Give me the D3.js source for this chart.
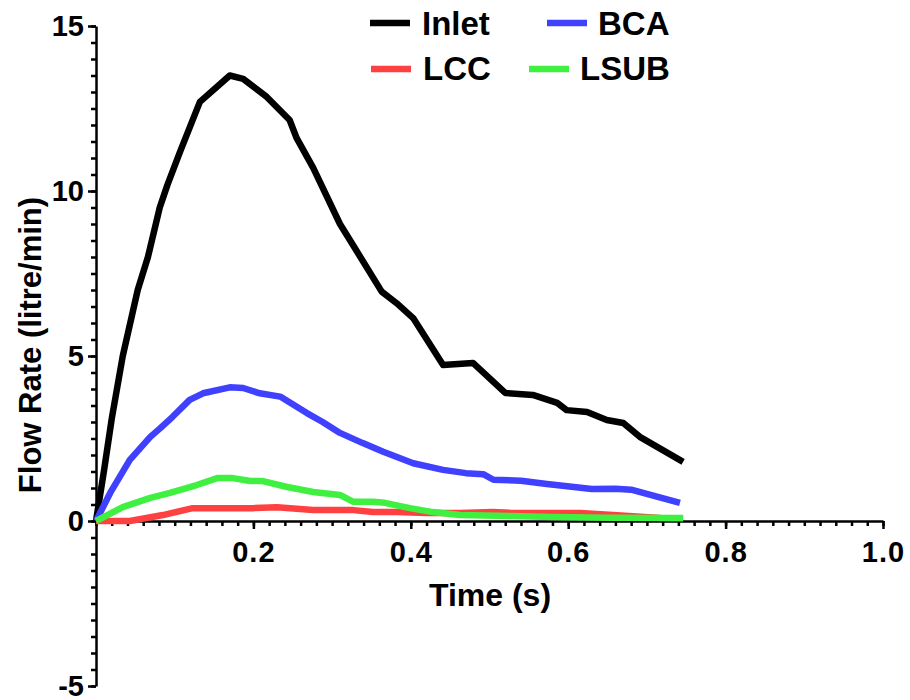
<!DOCTYPE html>
<html lang="en">
<head>
  <meta charset="UTF-8">
  <title>Flow Rate vs Time</title>
  <script src="https://d3js.org/d3.v7.min.js"></script>
  <style>
    * { margin: 0; padding: 0; box-sizing: border-box; }
    body { width: 910px; height: 700px; background: #fff; font-family: "Liberation Sans", Arial, sans-serif; }
    .tick text { font-weight: bold; }
  </style>
</head>
<body>
  <div id="chart"></div>

  <script>
    // Data (time in s, flow in litre/min)
    const inletTime = [0, 0.01, 0.02, 0.034, 0.053, 0.066, 0.081, 0.091, 0.107, 0.132, 0.170, 0.187, 0.217, 0.246, 0.255, 0.276, 0.310, 0.323, 0.363, 0.382, 0.403, 0.441, 0.479, 0.520, 0.555, 0.586, 0.598, 0.624, 0.649, 0.670, 0.691, 0.746];
    const inletFlow = [0, 1.5, 3.1, 5.0, 7.0, 8.0, 9.5, 10.2, 11.2, 12.7, 13.5, 13.4, 12.85, 12.15, 11.6, 10.7, 9.0, 8.5, 6.95, 6.6, 6.15, 4.73, 4.79, 3.88, 3.82, 3.58, 3.36, 3.3, 3.06, 2.97, 2.55, 1.79];

    const bcaTime = [0, 0.018, 0.043, 0.069, 0.081, 0.097, 0.119, 0.136, 0.170, 0.187, 0.208, 0.234, 0.268, 0.288, 0.310, 0.339, 0.365, 0.403, 0.441, 0.470, 0.492, 0.505, 0.540, 0.573, 0.630, 0.660, 0.680, 0.742];
    const bcaFlow = [0, 0.85, 1.85, 2.55, 2.8, 3.15, 3.67, 3.87, 4.05, 4.03, 3.87, 3.77, 3.27, 3.0, 2.67, 2.36, 2.1, 1.75, 1.55, 1.45, 1.42, 1.25, 1.22, 1.12, 0.97, 0.98, 0.95, 0.55];

    const lccTime = [0, 0.043, 0.085, 0.123, 0.170, 0.199, 0.230, 0.276, 0.327, 0.352, 0.382, 0.420, 0.462, 0.504, 0.526, 0.615, 0.657, 0.717, 0.746];
    const lccFlow = [0, 0, 0.18, 0.39, 0.39, 0.39, 0.42, 0.33, 0.33, 0.27, 0.27, 0.24, 0.24, 0.27, 0.25, 0.24, 0.18, 0.09, 0.08];

    const lsubTime = [0, 0.034, 0.069, 0.094, 0.128, 0.154, 0.174, 0.196, 0.212, 0.243, 0.276, 0.310, 0.327, 0.352, 0.367, 0.399, 0.428, 0.462, 0.526, 0.580, 0.650, 0.746];
    const lsubFlow = [0, 0.42, 0.7, 0.85, 1.09, 1.3, 1.3, 1.21, 1.21, 1.03, 0.88, 0.79, 0.58, 0.58, 0.55, 0.39, 0.27, 0.18, 0.15, 0.12, 0.1, 0.09];

    const seriesNames = ['Inlet', 'BCA', 'LCC', 'LSUB'];
    const seriesColors = ['#000000', '#4040ff', '#ff4040', '#40f040'];

    const xTicks = [0.2, 0.4, 0.6, 0.8, 1.0];
    const yTicks = [-5, 0, 5, 10, 15];

    const width = 910, height = 700;

    const svg = d3.select('#chart')
      .append('svg')
      .attr('width', width)
      .attr('height', height);

    const x = d3.scaleLinear().domain([0, 1]).range([96, 883]);
    const y = d3.scaleLinear().domain([-5, 15]).range([686, 26]);

    // minor ticks first, then major ticks with labels
    svg.append('g')
      .attr('transform', `translate(0,${y(0)})`)
      .call(d3.axisBottom(x).tickValues(d3.range(0, 1.0001, 0.02)).tickSize(5).tickFormat(''))
      .call(g => g.select('.domain').remove());

    svg.append('g')
      .attr('transform', `translate(${x(0)},0)`)
      .call(d3.axisLeft(y).tickValues(d3.range(-5, 15.001, 0.5)).tickSize(5).tickFormat(''))
      .call(g => g.select('.domain').remove());

    const xAxis = svg.append('g')
      .attr('transform', `translate(0,${y(0)})`)
      .call(d3.axisBottom(x).tickValues(xTicks).tickSize(8).tickSizeOuter(0).tickPadding(12).tickFormat(d => d.toFixed(1)));

    const yAxis = svg.append('g')
      .attr('transform', `translate(${x(0)},0)`)
      .call(d3.axisLeft(y).tickValues(yTicks).tickSize(8).tickSizeOuter(0).tickPadding(4).tickFormat(d => String(d)));

    [xAxis, yAxis].forEach(g => {
      g.selectAll('path, line').attr('stroke', '#000').attr('stroke-width', 2.5);
      g.selectAll('text').attr('font-size', 29).attr('fill', '#000')
        .attr('font-family', '"Liberation Sans", Arial, sans-serif');
    });
    svg.selectAll('.tick line').attr('stroke', '#000').attr('stroke-width', 2.5);
    xAxis.selectAll('text').attr('dy', '0.71em').attr('letter-spacing', 1);

    // axis titles
    svg.append('text')
      .attr('x', 490)
      .attr('y', 606)
      .attr('text-anchor', 'middle')
      .attr('font-size', 32)
      .attr('font-weight', 'bold')
      .text('Time (s)');

    svg.append('text')
      .attr('transform', `translate(41,345) rotate(-90)`)
      .attr('text-anchor', 'middle')
      .attr('font-size', 31)
      .attr('font-weight', 'bold')
      .text('Flow Rate (litre/min)');

    // lines
    const allSeries = [
      { times: inletTime, flows: inletFlow },
      { times: bcaTime, flows: bcaFlow },
      { times: lccTime, flows: lccFlow },
      { times: lsubTime, flows: lsubFlow }
    ];

    const line = d3.line()
      .x(d => x(d[0]))
      .y(d => y(d[1]));

    allSeries.forEach((s, i) => {
      svg.append('path')
        .datum(d3.zip(s.times, s.flows))
        .attr('fill', 'none')
        .attr('stroke', seriesColors[i])
        .attr('stroke-width', 6.5)
        .attr('stroke-linejoin', 'round')
        .attr('d', line);
    });

    // legend, two columns
    const legendPos = [
      { lx: 370, ly: 23, tx: 422, ty: 35 },
      { lx: 547, ly: 23, tx: 598, ty: 35 },
      { lx: 371, ly: 69, tx: 423, ty: 80 },
      { lx: 529, ly: 69, tx: 580, ty: 80 }
    ];

    const legend = svg.append('g');
    seriesNames.forEach((name, i) => {
      const p = legendPos[i];
      legend.append('line')
        .attr('x1', p.lx).attr('x2', p.lx + 40)
        .attr('y1', p.ly).attr('y2', p.ly)
        .attr('stroke', seriesColors[i])
        .attr('stroke-width', 6.5);
      legend.append('text')
        .attr('x', p.tx).attr('y', p.ty)
        .attr('font-size', 33)
        .attr('font-weight', 'bold')
        .text(name);
    });
  </script>
</body>
</html>
